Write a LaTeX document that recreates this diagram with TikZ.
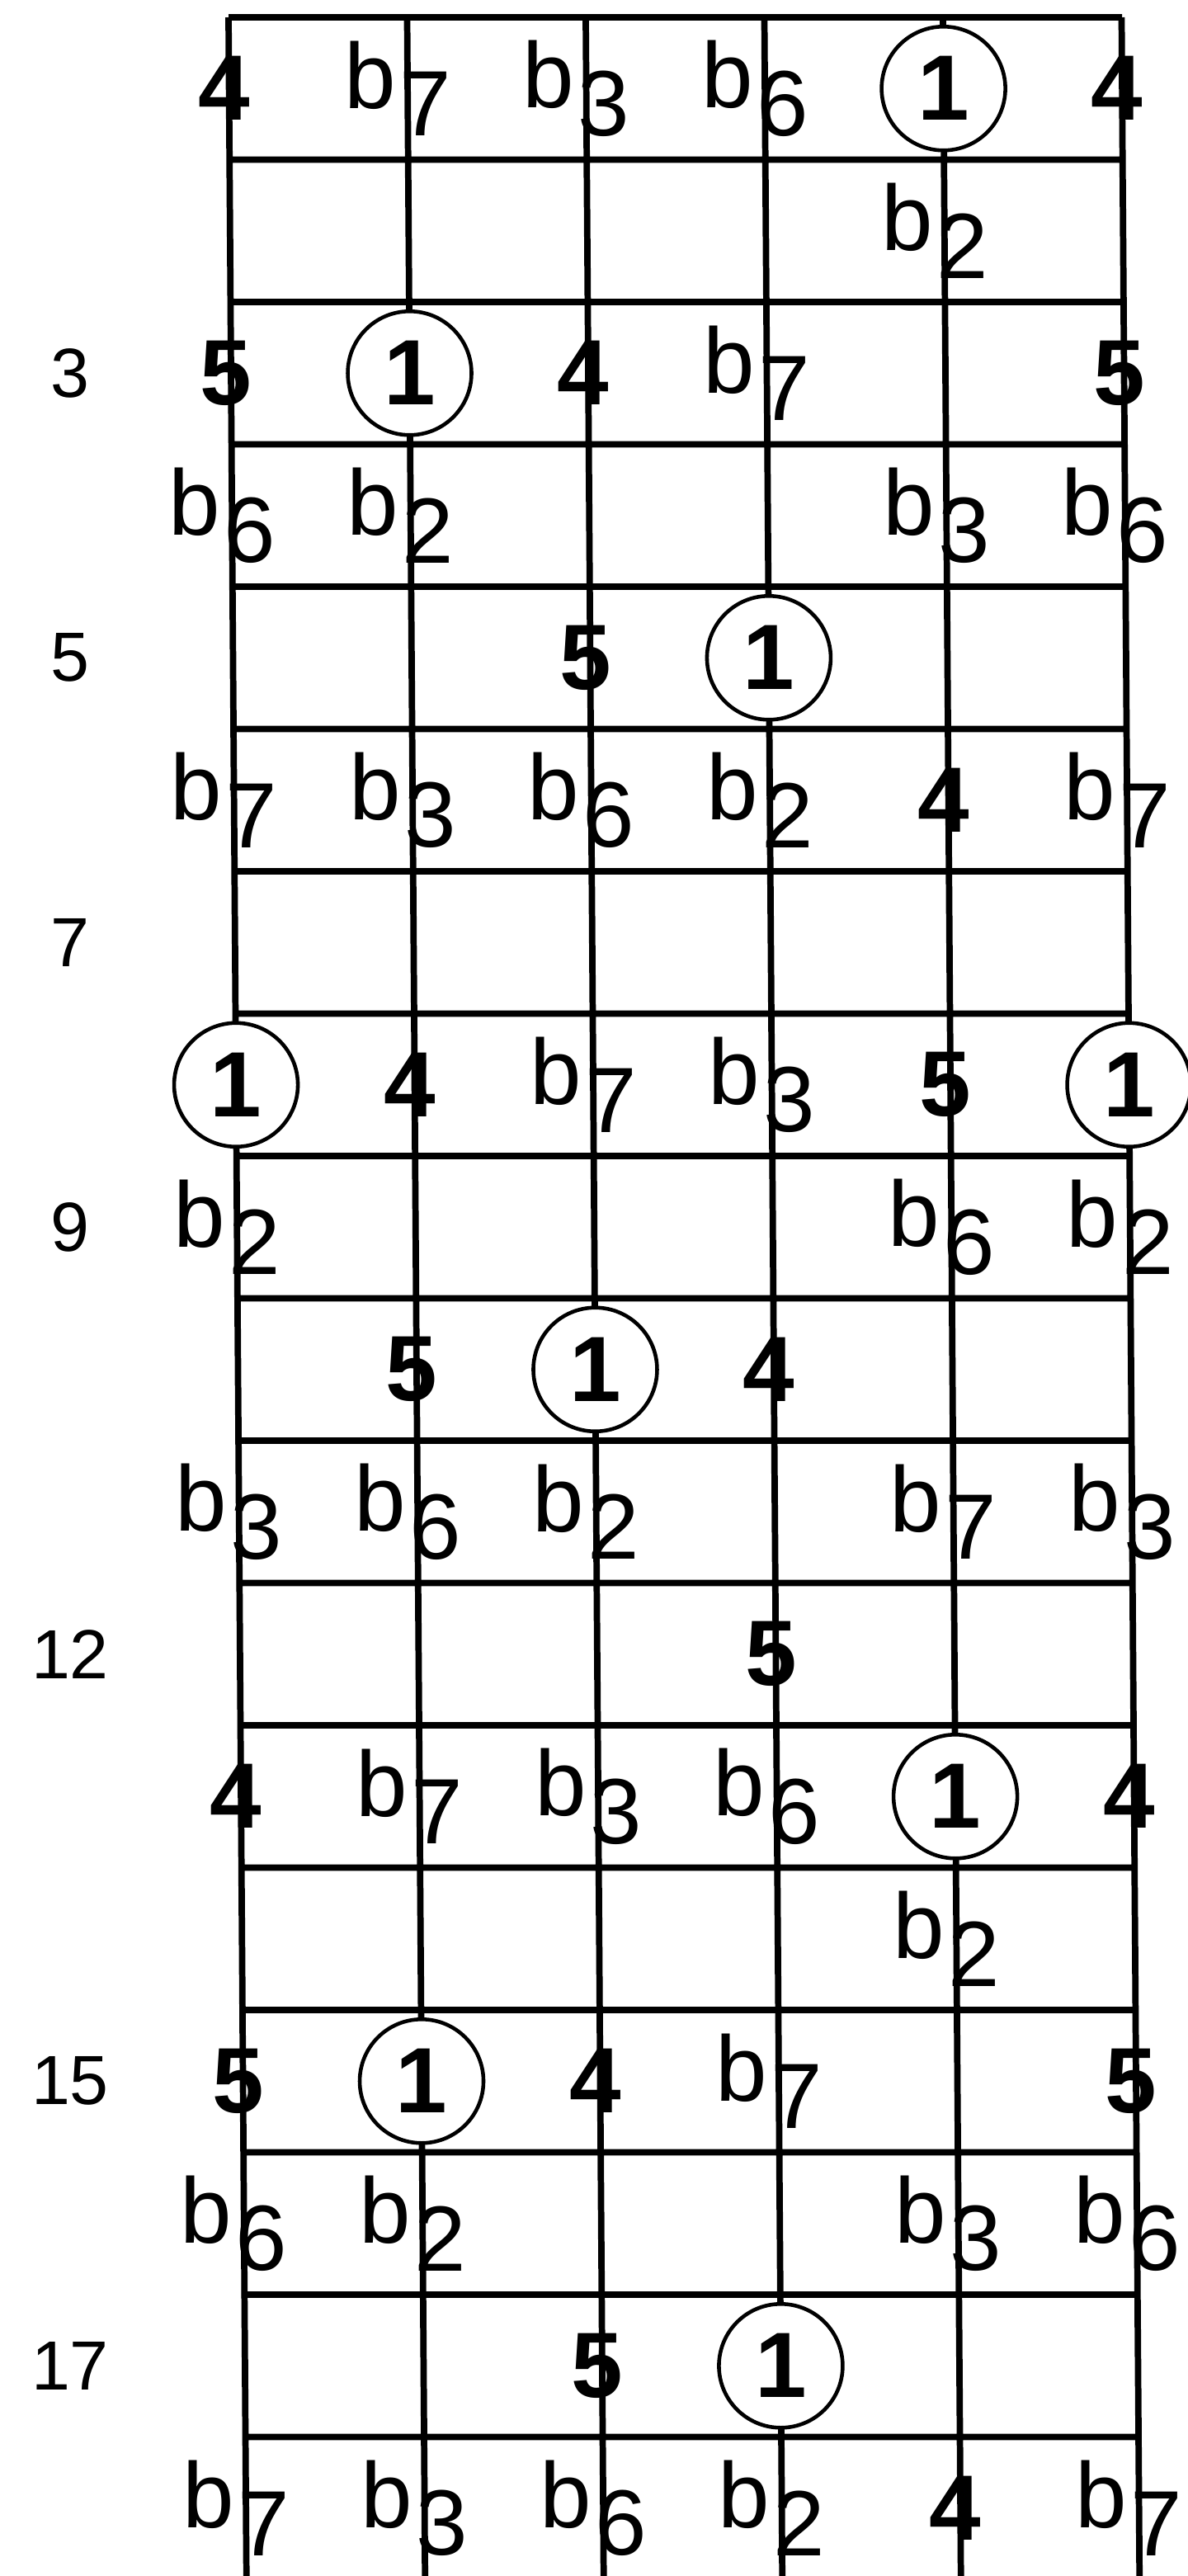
\documentclass[tikz,border=0pt]{standalone}
\usepackage{fontspec}
\setmainfont{Liberation Sans}
\newcommand{\mol}[1]{{\mdseries\raisebox{.3em}{b}\kern.04em#1}}
\tikzset{
  racs/.style={line width=2.2pt},
  hang/.style={inner sep=0pt,xshift=-0.6mm},
  molh/.style={inner sep=0pt,xshift=-1.2mm},
  gyok/.style={circle,draw,fill=white,line width=1.3pt,minimum size=1.5cm,inner sep=0pt},
  fok/.style={font=\fontsize{24}{24}\selectfont},
}

\begin{document}
\begin{tikzpicture}[font=\fontsize{32}{32}\selectfont\bfseries]
  \useasboundingbox (0,0) rectangle (14.39,-31.22);
  \begin{scope}[shift={(2.77,-0.21)},xslant=-0.007]
    \draw[racs] (0,-31.1) grid[xstep=2.165,ystep=1.725] (10.83,0);
    \begin{scope}[x=2.165cm,y=-1.725cm]
      % fret 1
      \node[hang] (r1s1) at (0,.5) {4}; \node[molh] (r1s2) at (1,.5) {\mol7};
      \node[molh] (r1s3) at (2,.5) {\mol3}; \node[molh] (r1s4) at (3,.5) {\mol6};
      \node[gyok] (r1s5) at (4,.5) {1}; \node[hang] (r1s6) at (5,.5) {4};
      \node[molh] (r2s5) at (4,1.5) {\mol2};
      % fret 3
      \node[hang] (r3s1) at (0,2.5) {5}; \node[gyok] (r3s2) at (1,2.5) {1};
      \node[hang] (r3s3) at (2,2.5) {4}; \node[molh] (r3s4) at (3,2.5) {\mol7};
      \node[hang] (r3s6) at (5,2.5) {5};
      \node[molh] (r4s1) at (0,3.5) {\mol6}; \node[molh] (r4s2) at (1,3.5) {\mol2};
      \node[molh] (r4s5) at (4,3.5) {\mol3}; \node[molh] (r4s6) at (5,3.5) {\mol6};
      % fret 5
      \node[hang] (r5s3) at (2,4.5) {5}; \node[gyok] (r5s4) at (3,4.5) {1};
      \node[molh] (r6s1) at (0,5.5) {\mol7}; \node[molh] (r6s2) at (1,5.5) {\mol3};
      \node[molh] (r6s3) at (2,5.5) {\mol6}; \node[molh] (r6s4) at (3,5.5) {\mol2};
      \node[hang] (r6s5) at (4,5.5) {4}; \node[molh] (r6s6) at (5,5.5) {\mol7};
      % fret 8
      \node[gyok] (r8s1) at (0,7.5) {1}; \node[hang] (r8s2) at (1,7.5) {4};
      \node[molh] (r8s3) at (2,7.5) {\mol7}; \node[molh] (r8s4) at (3,7.5) {\mol3};
      \node[hang] (r8s5) at (4,7.5) {5}; \node[gyok] (r8s6) at (5,7.5) {1};
      \node[molh] (r9s1) at (0,8.5) {\mol2}; \node[molh] (r9s5) at (4,8.5) {\mol6};
      \node[molh] (r9s6) at (5,8.5) {\mol2};
      % fret 10
      \node[hang] (r10s2) at (1,9.5) {5}; \node[gyok] (r10s3) at (2,9.5) {1};
      \node[hang] (r10s4) at (3,9.5) {4};
      \node[molh] (r11s1) at (0,10.5) {\mol3}; \node[molh] (r11s2) at (1,10.5) {\mol6};
      \node[molh] (r11s3) at (2,10.5) {\mol2}; \node[molh] (r11s5) at (4,10.5) {\mol7};
      \node[molh] (r11s6) at (5,10.5) {\mol3};
      \node[hang] (r12s4) at (3,11.5) {5};
      % fret 13
      \node[hang] (r13s1) at (0,12.5) {4}; \node[molh] (r13s2) at (1,12.5) {\mol7};
      \node[molh] (r13s3) at (2,12.5) {\mol3}; \node[molh] (r13s4) at (3,12.5) {\mol6};
      \node[gyok] (r13s5) at (4,12.5) {1}; \node[hang] (r13s6) at (5,12.5) {4};
      \node[molh] (r14s5) at (4,13.5) {\mol2};
      % fret 15
      \node[hang] (r15s1) at (0,14.5) {5}; \node[gyok] (r15s2) at (1,14.5) {1};
      \node[hang] (r15s3) at (2,14.5) {4}; \node[molh] (r15s4) at (3,14.5) {\mol7};
      \node[hang] (r15s6) at (5,14.5) {5};
      \node[molh] (r16s1) at (0,15.5) {\mol6}; \node[molh] (r16s2) at (1,15.5) {\mol2};
      \node[molh] (r16s5) at (4,15.5) {\mol3}; \node[molh] (r16s6) at (5,15.5) {\mol6};
      % fret 17
      \node[hang] (r17s3) at (2,16.5) {5}; \node[gyok] (r17s4) at (3,16.5) {1};
      \node[molh] (r18s1) at (0,17.5) {\mol7}; \node[molh] (r18s2) at (1,17.5) {\mol3};
      \node[molh] (r18s3) at (2,17.5) {\mol6}; \node[molh] (r18s4) at (3,17.5) {\mol2};
      \node[hang] (r18s5) at (4,17.5) {4}; \node[molh] (r18s6) at (5,17.5) {\mol7};
    \end{scope}
  \end{scope}
  \begin{scope}[shift={(0.85,-0.21)},y=-1.725cm]
    \node[fok] (f3) at (0,2.5) {3}; \node[fok] (f5) at (0,4.5) {5};
    \node[fok] (f7) at (0,6.5) {7}; \node[fok] (f9) at (0,8.5) {9};
    \node[fok] (f12) at (0,11.5) {12}; \node[fok] (f15) at (0,14.5) {15};
    \node[fok] (f17) at (0,16.5) {17};
  \end{scope}
\end{tikzpicture}
\end{document}
